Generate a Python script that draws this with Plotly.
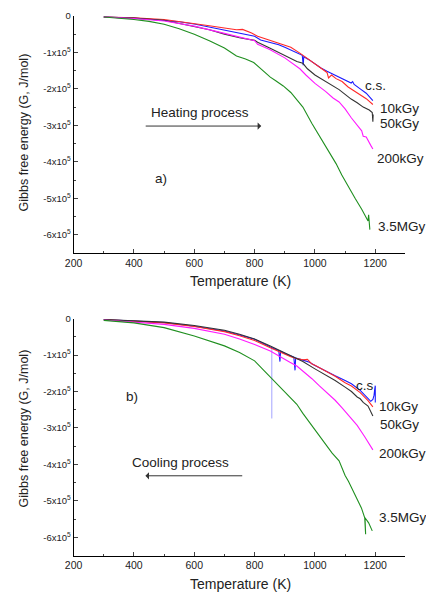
import plotly.graph_objects as go

# ---------------- Data (G in units of 1e5 J/mol) ----------------
# a) Heating process
heat_cs_T = [300, 350, 400, 450, 500, 550, 600, 650, 700, 750, 780, 800, 820, 850, 880, 900, 930, 958, 961, 963, 980, 1000, 1020, 1040, 1060, 1080, 1100, 1120, 1125, 1130, 1150, 1170, 1192]
heat_cs_G = [-0.03, -0.04, -0.06, -0.09, -0.12, -0.16, -0.22, -0.3, -0.4, -0.47, -0.52, -0.56, -0.66, -0.73, -0.79, -0.86, -0.98, -1.08, -1.35, -1.12, -1.2, -1.32, -1.43, -1.52, -1.6, -1.68, -1.75, -1.84, -1.8, -1.88, -2.0, -2.12, -2.32]

heat_10k_T = [300, 400, 500, 600, 650, 700, 740, 760, 790, 810, 850, 880, 920, 950, 980, 1000, 1020, 1040, 1045, 1055, 1070, 1090, 1110, 1130, 1150, 1170, 1192]
heat_10k_G = [-0.03, -0.05, -0.1, -0.2, -0.27, -0.33, -0.38, -0.37, -0.47, -0.56, -0.67, -0.75, -0.86, -1.02, -1.2, -1.33, -1.45, -1.55, -1.7, -1.62, -1.72, -1.8, -1.95, -2.05, -2.15, -2.27, -2.43]

heat_50k_T = [300, 400, 500, 600, 650, 700, 750, 800, 810, 850, 900, 940, 960, 975, 1000, 1030, 1060, 1080, 1100, 1120, 1140, 1160, 1180, 1190, 1192, 1193]
heat_50k_G = [-0.03, -0.06, -0.12, -0.28, -0.38, -0.5, -0.6, -0.67, -0.72, -0.88, -1.08, -1.25, -1.3, -1.45, -1.62, -1.77, -1.92, -2.02, -2.15, -2.28, -2.38, -2.5, -2.58, -2.65, -2.9, -2.7]

heat_200k_T = [300, 400, 500, 600, 700, 750, 790, 800, 810, 850, 900, 950, 970, 1000, 1035, 1060, 1080, 1100, 1121, 1140, 1155, 1160, 1170, 1185, 1192]
heat_200k_G = [-0.03, -0.07, -0.14, -0.28, -0.48, -0.58, -0.65, -0.68, -0.78, -0.92, -1.15, -1.45, -1.62, -1.85, -2.07, -2.25, -2.36, -2.55, -2.8, -3.0, -3.15, -3.3, -3.32, -3.55, -3.65]

heat_35M_T = [300, 350, 400, 450, 500, 550, 600, 650, 700, 740, 770, 797, 820, 840, 852, 870, 895, 920, 940, 960, 990, 1020, 1045, 1070, 1089, 1110, 1133, 1155, 1176, 1178, 1180, 1182]
heat_35M_G = [-0.03, -0.06, -0.1, -0.15, -0.23, -0.35, -0.5, -0.68, -0.88, -1.1, -1.18, -1.28, -1.45, -1.6, -1.68, -1.78, -1.92, -2.1, -2.3, -2.5, -2.95, -3.35, -3.72, -4.05, -4.36, -4.68, -5.0, -5.3, -5.62, -5.45, -5.8, -5.86]

# b) Cooling process
cool_cs_T = [300, 400, 500, 600, 700, 750, 800, 852, 880, 884, 886, 900, 930, 934, 936, 960, 982, 1000, 1030, 1067, 1100, 1121, 1150, 1176, 1185, 1192, 1196, 1198, 1200, 1200]
cool_cs_G = [-0.03, -0.07, -0.11, -0.21, -0.34, -0.45, -0.57, -0.78, -0.88, -1.18, -0.9, -0.96, -1.06, -1.42, -1.08, -1.14, -1.2, -1.29, -1.42, -1.57, -1.7, -1.79, -1.97, -2.2, -2.27, -2.22, -2.1, -1.95, -1.84, -2.3]
cool_cs_spike_T = [857, 857]
cool_cs_spike_G = [-0.8, -2.74]

cool_10k_T = [300, 400, 500, 600, 700, 750, 800, 852, 900, 920, 940, 960, 975, 990, 1000, 1030, 1067, 1100, 1121, 1150, 1176, 1192]
cool_10k_G = [-0.03, -0.07, -0.12, -0.22, -0.36, -0.47, -0.6, -0.8, -0.98, -1.05, -1.1, -1.13, -1.12, -1.25, -1.28, -1.42, -1.58, -1.76, -1.85, -2.03, -2.25, -2.42]

cool_50k_T = [300, 400, 500, 600, 700, 750, 800, 852, 900, 960, 1000, 1030, 1067, 1100, 1121, 1140, 1150, 1160, 1176, 1192]
cool_50k_G = [-0.03, -0.06, -0.1, -0.19, -0.32, -0.43, -0.56, -0.75, -0.95, -1.18, -1.38, -1.52, -1.7, -1.88, -2.0, -2.15, -2.2, -2.3, -2.4, -2.67]

cool_200k_T = [300, 400, 500, 600, 700, 750, 800, 852, 880, 917, 940, 960, 990, 1014, 1040, 1067, 1090, 1121, 1140, 1165, 1180, 1192]
cool_200k_G = [-0.04, -0.09, -0.16, -0.27, -0.43, -0.56, -0.71, -0.89, -1.03, -1.2, -1.3, -1.43, -1.65, -1.84, -2.03, -2.24, -2.45, -2.74, -2.93, -3.24, -3.42, -3.6]

cool_35M_T = [300, 400, 500, 600, 700, 750, 800, 852, 880, 917, 940, 960, 980, 1003, 1030, 1057, 1080, 1100, 1111, 1130, 1154, 1165, 1168, 1166, 1178, 1190]
cool_35M_G = [-0.05, -0.12, -0.25, -0.48, -0.75, -0.93, -1.16, -1.61, -1.85, -2.15, -2.35, -2.6, -2.82, -3.1, -3.4, -3.69, -3.9, -4.3, -4.46, -4.8, -5.19, -5.46, -5.91, -5.46, -5.6, -5.82]

series_names = ["c.s.", "10kGy", "50kGy", "200kGy", "3.5MGy"]
cool_names = ["c.s", "10kGy", "50kGy", "200kGy", "3.5MGy"]
series_colors = ["#1a1aff", "#ff2a2a", "#333333", "#ff1aff", "#1f8f1f"]

y_tickvals = [0, -1, -2, -3, -4, -5, -6]
y_ticktext = ["0"] + ["-%dx10<sup>5</sup>" % k for k in range(1, 7)]
x_tickvals = [200, 400, 600, 800, 1000, 1200]

SCALE = 1e5

heat = [(heat_cs_T, heat_cs_G), (heat_10k_T, heat_10k_G), (heat_50k_T, heat_50k_G),
        (heat_200k_T, heat_200k_G), (heat_35M_T, heat_35M_G)]
cool = [(cool_cs_T, cool_cs_G), (cool_10k_T, cool_10k_G), (cool_50k_T, cool_50k_G),
        (cool_200k_T, cool_200k_G), (cool_35M_T, cool_35M_G)]

fig = go.Figure()
for (T, G), name, col in zip(heat, series_names, series_colors):
    fig.add_trace(go.Scatter(x=T, y=[g * SCALE for g in G], mode="lines", name=name,
                             line=dict(color=col, width=1.1), xaxis="x", yaxis="y"))
fig.add_trace(go.Scatter(x=cool_cs_spike_T, y=[g * SCALE for g in cool_cs_spike_G], mode="lines",
                         line=dict(color="rgba(90,90,255,0.55)", width=1), xaxis="x2", yaxis="y2"))
for (T, G), name, col in zip(cool, series_names, series_colors):
    fig.add_trace(go.Scatter(x=T, y=[g * SCALE for g in G], mode="lines", name=name,
                             line=dict(color=col, width=1.1), xaxis="x2", yaxis="y2"))

font = "Arial, Liberation Sans, sans-serif"
xdom = [66 / 426, 405 / 426]
ax_common = dict(range=[200, 1300], tickvals=x_tickvals, ticks="inside", ticklen=4,
                 showline=True, linecolor="black", linewidth=1, showgrid=False, zeroline=False,
                 tickfont=dict(size=10.5, color="#222"), domain=xdom,
                 minor=dict(ticks="inside", dtick=100, tick0=200, ticklen=2, showgrid=False))
ay_common = dict(range=[-6.5 * SCALE, 0], tickvals=[v * SCALE for v in y_tickvals], ticktext=y_ticktext,
                 ticks="inside", ticklen=4, showline=True, linecolor="black", linewidth=1,
                 showgrid=False, zeroline=False, tickfont=dict(size=9.5, color="#222"),
                 minor=dict(ticks="inside", dtick=0.5 * SCALE, tick0=0, ticklen=2, showgrid=False))

fig.update_layout(
    width=426, height=595, margin=dict(l=0, r=0, t=0, b=0),
    paper_bgcolor="white", plot_bgcolor="white", showlegend=False,
    font=dict(family=font, color="#222"),
    xaxis=dict(**ax_common, anchor="y"),
    yaxis=dict(**ay_common, domain=[1 - 249.5 / 595, 1 - 10 / 595], anchor="x"),
    xaxis2=dict(**ax_common, anchor="y2"),
    yaxis2=dict(**ay_common, domain=[1 - 555.3 / 595, 1 - 315.7 / 595], anchor="x2"),
)

ann = []
ylab = "Gibbs free energy (G, J/mol)"
for yc in [1 - 128 / 595, 1 - 427 / 595]:
    ann.append(dict(text=ylab, xref="paper", yref="paper", x=15 / 426, y=yc, textangle=-90,
                    xanchor="center", yanchor="middle",
                    showarrow=False, font=dict(size=12.5)))
for yc in [1 - 278 / 595, 1 - 583.5 / 595]:
    ann.append(dict(text="Temperature (K)", xref="paper", yref="paper", x=236 / 426, y=yc,
                    xanchor="center", yanchor="middle",
                    showarrow=False, font=dict(size=14)))

# Series labels
heat_lab = [(1160, -1.91), (1209, -2.53), (1209, -2.94), (1199, -3.92), (1202, -5.78)]
cool_lab = [(1131, -1.83), (1205, -2.42), (1210, -2.91), (1205, -3.7), (1205, -5.46)]
for (x, y), name in zip(heat_lab, series_names):
    ann.append(dict(text=name, xref="x", yref="y", x=x, y=y * SCALE, xanchor="left",
                    yanchor="middle", showarrow=False, font=dict(size=13.5, color="#222")))
for (x, y), name in zip(cool_lab, cool_names):
    ann.append(dict(text=name, xref="x2", yref="y2", x=x, y=y * SCALE, xanchor="left",
                    yanchor="middle", showarrow=False, font=dict(size=13.5, color="#222")))

ann += [
    dict(text="Heating process", xref="x", yref="y", x=618, y=-2.64 * SCALE, showarrow=False,
         font=dict(size=13.5)),
    dict(text="", xref="x", yref="y", x=822, y=-3.02 * SCALE, ax=434, ay=-3.02 * SCALE,
         axref="x", ayref="y", showarrow=True, arrowhead=1, arrowsize=1.2, arrowwidth=1,
         arrowcolor="#333"),
    dict(text="a)", xref="x", yref="y", x=489, y=-4.45 * SCALE, showarrow=False, font=dict(size=13.5)),
    dict(text="Cooling process", xref="x2", yref="y2", x=553, y=-3.94 * SCALE, showarrow=False,
         font=dict(size=13.5)),
    dict(text="", xref="x2", yref="y2", x=438, y=-4.31 * SCALE, ax=764, ay=-4.31 * SCALE,
         axref="x2", ayref="y2", showarrow=True, arrowhead=1, arrowsize=1.2, arrowwidth=1,
         arrowcolor="#333"),
    dict(text="b)", xref="x2", yref="y2", x=395, y=-2.13 * SCALE, showarrow=False, font=dict(size=13.5)),
]
fig.update_layout(annotations=ann)
fig.write_html("out.html")
